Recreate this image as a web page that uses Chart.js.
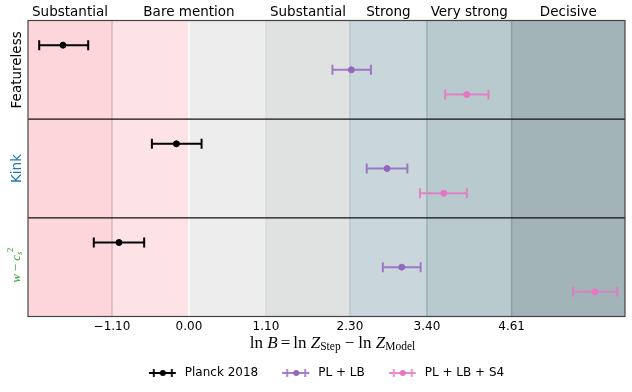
<!DOCTYPE html>
<html>
<head>
<meta charset="utf-8">
<script src="https://cdn.jsdelivr.net/npm/chart.js@4"></script>
<style>
  html, body { margin: 0; padding: 0; background: #fff; }
  #wrap { width: 632px; height: 392px; }
</style>
</head>
<body>
<div id="wrap"><canvas id="myChart"></canvas></div>
<script>
// panels (top to bottom)
const panelNames = ['Featureless', 'Kink', 'w-cs2'];
const panelColors = ['#000000', '#1f77b4', '#2ca02c'];

// series
const seriesNames = ['Planck 2018', 'PL + LB', 'PL + LB + S4'];
const seriesColors = ['#000000', '#9467bd', '#e377c2'];
const seriesBarColors = ['#000000', 'rgba(148,103,189,0.85)', 'rgba(227,119,194,0.85)'];

// ln B values per panel (Featureless, Kink, w-cs2)
const planckVal = [-1.80, -0.18, -1.00];
const planckLo  = [-2.14, -0.53, -1.36];
const planckHi  = [-1.44,  0.18, -0.64];

const plLbVal = [2.32, 2.83, 3.04];
const plLbLo  = [2.05, 2.54, 2.77];
const plLbHi  = [2.60, 3.12, 3.31];

const s4Val = [3.97, 3.64, 5.80];
const s4Lo  = [3.66, 3.30, 5.49];
const s4Hi  = [4.28, 3.97, 6.12];

const tickValues = [-1.10, 0.00, 1.10, 2.30, 3.40, 4.61];
const xMin = -2.30;
const xMax = 6.23;

// Jeffreys scale bands
const bandEdges = [xMin, -1.10, 0.00, 1.10, 2.30, 3.40, 4.61, xMax];
const bandColors = ['#fcd6da', '#fee3e6', '#ededed', '#e0e2e2', '#c9d7dc', '#b9cace', '#a3b4b9'];
const edgeColors = ['#d2bcc0', '#ffffff', '#d9dbdb', '#b8c8cd', '#9db1b7', '#8aa0a7'];
const evidenceLabels = ['Substantial', 'Bare mention', 'Substantial', 'Strong', 'Very strong', 'Decisive'];
const evidenceCentres = [-1.70, 0.00, 1.70, 2.85, 4.005, 5.42];

const allVal = [planckVal, plLbVal, s4Val];
const allLo = [planckLo, plLbLo, s4Lo];
const allHi = [planckHi, plLbHi, s4Hi];

// rows: each panel spans 4 units on y, series sit at 1, 2, 3
const datasets = seriesNames.map((name, s) => ({
    label: name,
    data: panelNames.map((p, i) => ({ x: allVal[s][i], y: i * 4 + s + 1, lo: allLo[s][i], hi: allHi[s][i] })),
    backgroundColor: seriesColors[s],
    borderColor: seriesColors[s],
    barColor: seriesBarColors[s],
    pointRadius: 3,
    pointHoverRadius: 3,
    showLine: false
}));

function makeHandle(color, barColor) {
    const c = document.createElement('canvas');
    c.width = 30;
    c.height = 12;
    const g = c.getContext('2d');
    g.strokeStyle = barColor;
    g.lineWidth = 1.8;
    g.beginPath();
    g.moveTo(0, 6); g.lineTo(27, 6);
    g.moveTo(5, 2); g.lineTo(5, 10);
    g.moveTo(23, 2); g.lineTo(23, 10);
    g.stroke();
    g.fillStyle = color;
    g.beginPath();
    g.arc(14, 6, 3, 0, Math.PI * 2);
    g.fill();
    return c;
}

const bandsPlugin = {
    id: 'bands',
    beforeDraw(chart) {
        const { ctx, chartArea: a, scales: { x } } = chart;
        ctx.save();
        for (let i = 0; i < bandColors.length; i++) {
            const x0 = x.getPixelForValue(bandEdges[i]);
            const x1 = x.getPixelForValue(bandEdges[i + 1]);
            ctx.fillStyle = bandColors[i];
            ctx.fillRect(x0, a.top, x1 - x0, a.bottom - a.top);
        }
        ctx.lineWidth = 1.5;
        for (let i = 1; i < bandEdges.length - 1; i++) {
            const px = x.getPixelForValue(bandEdges[i]);
            ctx.strokeStyle = edgeColors[i - 1];
            ctx.beginPath();
            ctx.moveTo(px, a.top);
            ctx.lineTo(px, a.bottom);
            ctx.stroke();
        }
        ctx.restore();
    }
};

const errorBarPlugin = {
    id: 'errorBars',
    beforeDatasetsDraw(chart) {
        const { ctx, scales: { x, y } } = chart;
        ctx.save();
        chart.data.datasets.forEach(ds => {
            ctx.strokeStyle = ds.barColor;
            ctx.lineWidth = 2;
            ds.data.forEach(pt => {
                const py = y.getPixelForValue(pt.y);
                const x0 = x.getPixelForValue(pt.lo);
                const x1 = x.getPixelForValue(pt.hi);
                ctx.beginPath();
                ctx.moveTo(x0, py); ctx.lineTo(x1, py);
                ctx.moveTo(x0, py - 5); ctx.lineTo(x0, py + 5);
                ctx.moveTo(x1, py - 5); ctx.lineTo(x1, py + 5);
                ctx.stroke();
            });
        });
        ctx.restore();
    }
};

function drawPieces(ctx, pieces, cx, cy) {
    let total = 0;
    pieces.forEach(p => { ctx.font = p.font; p.w = ctx.measureText(p.t).width + (p.gap || 0) * 2; total += p.w; });
    let px = cx - total / 2;
    pieces.forEach(p => {
        ctx.font = p.font;
        ctx.fillText(p.t, px + (p.gap || 0), cy + (p.dy || 0));
        px += p.w;
    });
    return cx - total / 2;
}

const textPlugin = {
    id: 'texts',
    afterDraw(chart) {
        const { ctx, chartArea: a, scales: { x, y } } = chart;
        ctx.save();
        // panel dividers and frame
        ctx.strokeStyle = '#111';
        ctx.lineWidth = 1.2;
        [4, 8].forEach(v => {
            const py = y.getPixelForValue(v);
            ctx.beginPath(); ctx.moveTo(a.left, py); ctx.lineTo(a.right, py); ctx.stroke();
        });
        ctx.strokeStyle = '#444';
        ctx.strokeRect(a.left, a.top, a.right - a.left, a.bottom - a.top);

        // evidence labels on top
        ctx.fillStyle = '#000';
        ctx.font = '13.5px "DejaVu Sans"';
        ctx.textAlign = 'center';
        ctx.textBaseline = 'middle';
        evidenceLabels.forEach((t, i) => ctx.fillText(t, x.getPixelForValue(evidenceCentres[i]), a.top - 8));

        // panel names
        [0, 1].forEach(i => {
            const py = y.getPixelForValue(i * 4 + 2);
            ctx.save();
            ctx.translate(a.left - 11, py);
            ctx.rotate(-Math.PI / 2);
            ctx.fillStyle = panelColors[i];
            ctx.font = '13.5px "DejaVu Sans"';
            ctx.fillText(panelNames[i], 0, 0);
            ctx.restore();
        });
        const py3 = y.getPixelForValue(10);
        ctx.save();
        ctx.translate(a.left - 12, py3);
        ctx.rotate(-Math.PI / 2);
        ctx.fillStyle = panelColors[2];
        ctx.textAlign = 'left';
        const start = drawPieces(ctx, [
            { t: 'w', font: 'italic 13px "Liberation Serif"' },
            { t: '\u2212', font: '13px "Liberation Serif"', gap: 3 },
            { t: 'c', font: 'italic 13px "Liberation Serif"' },
            { t: 's', font: 'italic 9px "Liberation Serif"', dy: 3 }
        ], 0, 1);
        ctx.font = '9px "Liberation Serif"';
        ctx.fillText('2', start + 30.5, -5);
        ctx.restore();

        // x axis title
        ctx.fillStyle = '#000';
        ctx.textAlign = 'left';
        const f = '17px "Liberation Serif"', fi = 'italic 17px "Liberation Serif"', fs = '11.5px "Liberation Serif"';
        drawPieces(ctx, [
            { t: 'ln ', font: f },
            { t: 'B', font: fi },
            { t: '=', font: f, gap: 3 },
            { t: 'ln ', font: f },
            { t: 'Z', font: fi },
            { t: 'Step', font: fs, dy: 3.5 },
            { t: '\u2212', font: f, gap: 4 },
            { t: 'ln ', font: f },
            { t: 'Z', font: fi },
            { t: 'Model', font: fs, dy: 3.5 }
        ], (a.left + a.right) / 2 + 6, a.bottom + 27);
        ctx.restore();
    }
};

const ctx = document.getElementById('myChart').getContext('2d');
const myChart = new Chart(ctx, {
    type: 'scatter',
    data: { datasets: datasets },
    options: {
        responsive: true,
        maintainAspectRatio: false,
        animation: false,
        layout: { padding: { left: 28, right: 7, top: 20.5, bottom: 3 } },
        plugins: {
            tooltip: { enabled: false },
            legend: {
                position: 'bottom',
                fullSize: false,
                labels: {
                    usePointStyle: true,
                    pointStyleWidth: 30,
                    padding: 24,
                    color: '#000',
                    font: { family: 'DejaVu Sans', size: 12 },
                    generateLabels: chart => chart.data.datasets.map((ds, i) => ({
                        text: ds.label,
                        pointStyle: makeHandle(seriesColors[i], seriesBarColors[i]),
                        fillStyle: seriesColors[i],
                        strokeStyle: seriesColors[i],
                        lineWidth: 0,
                        fontColor: '#000',
                        datasetIndex: i
                    }))
                }
            }
        },
        scales: {
            x: {
                type: 'linear',
                min: xMin,
                max: xMax,
                afterBuildTicks: scale => { scale.ticks = tickValues.map(v => ({ value: v })); },
                afterFit: scale => { scale.height = 26.5; },
                grid: { display: false, drawTicks: false },
                border: { display: false },
                ticks: {
                    padding: 3,
                    color: '#000',
                    font: { family: 'DejaVu Sans', size: 12 },
                    maxRotation: 0,
                    autoSkip: false,
                    callback: v => (v < 0 ? '\u2212' : '') + Math.abs(v).toFixed(2)
                }
            },
            y: {
                type: 'linear',
                min: 0,
                max: 12,
                reverse: true,
                display: false
            }
        }
    },
    plugins: [bandsPlugin, errorBarPlugin, textPlugin]
});
</script>
</body>
</html>
